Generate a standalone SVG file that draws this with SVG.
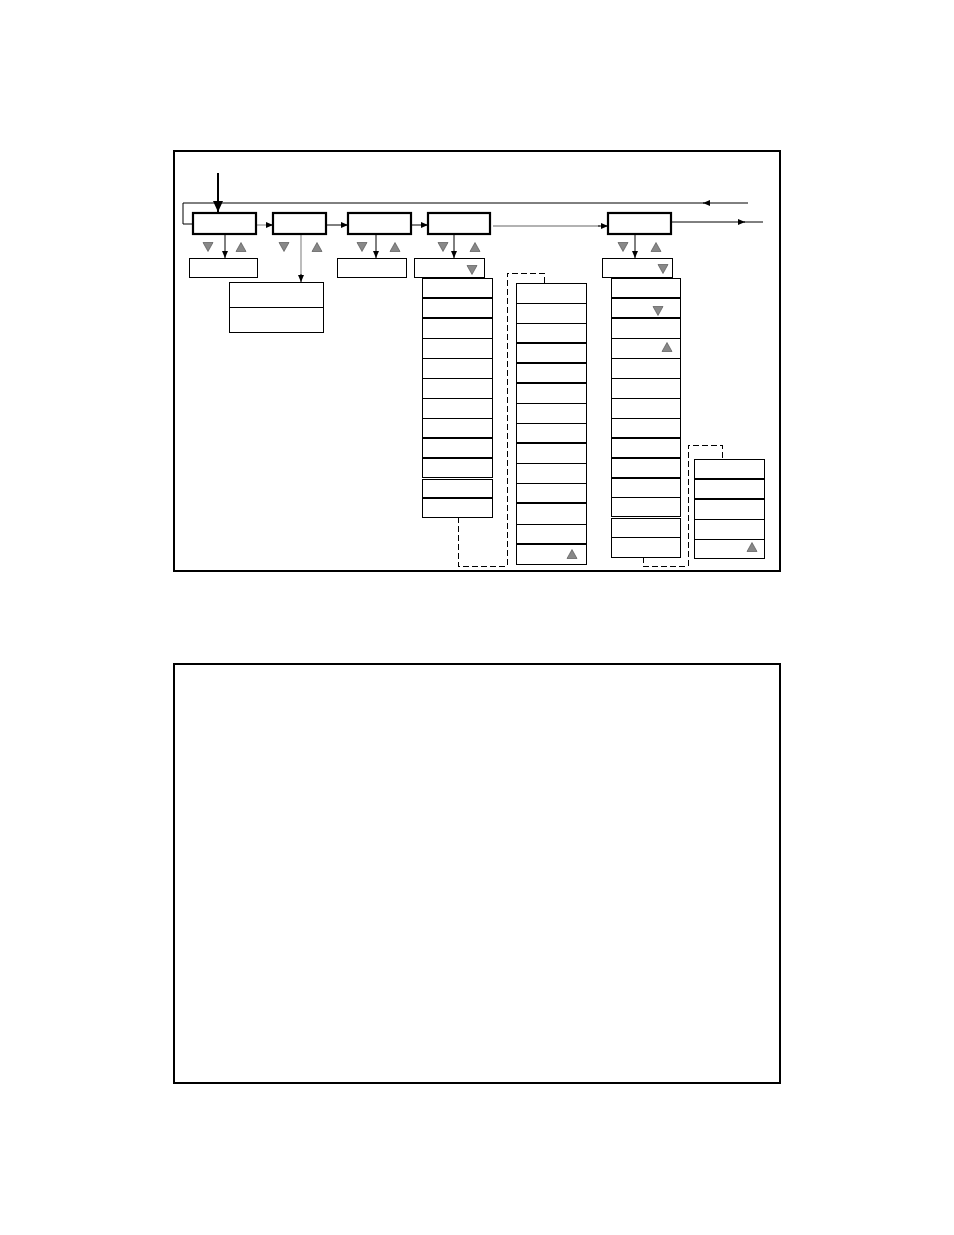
<svg xmlns="http://www.w3.org/2000/svg" width="954" height="1235" viewBox="0 0 954 1235">
<style>
.frame{fill:none;stroke:#000;stroke-width:2}
.main{fill:#fff;stroke:#000;stroke-width:2.2}
.box{fill:#fff;stroke:#000;stroke-width:1;shape-rendering:crispEdges}
.thin{stroke:#000;stroke-width:1;shape-rendering:crispEdges}
.thick{stroke:#000;stroke-width:2}
.con{fill:none;stroke:#000;stroke-width:1}
.gray{fill:none;stroke:#999;stroke-width:1.3}
.dash{fill:none;stroke:#000;stroke-width:1;stroke-dasharray:6,3;shape-rendering:crispEdges}
.tri{fill:#888;stroke:#444;stroke-width:0.6}
</style>
<defs>
<marker id="ah" markerUnits="userSpaceOnUse" markerWidth="8" markerHeight="8" refX="7" refY="4" orient="auto">
<path d="M0,1 L7,4 L0,7 Z" fill="#000"/>
</marker>
<marker id="ahBig" markerUnits="userSpaceOnUse" markerWidth="12" markerHeight="12" refX="11" refY="6" orient="auto">
<path d="M0,1 L11,6 L0,11 Z" fill="#000"/>
</marker>
<path id="dn" class="tri" d="M-5,-4.5 L5,-4.5 L0,4.5 Z"/>
<path id="up" class="tri" d="M-5,4.5 L5,4.5 L0,-4.5 Z"/>
</defs>
<rect width="954" height="1235" fill="#fff"/>
<rect id="frame1" class="frame" x="174" y="151" width="606" height="420"/>
<rect id="frame2" class="frame" x="174" y="664" width="606" height="419"/>

<g id="connectors">
<line x1="218" y1="173" x2="218" y2="212" stroke="#000" stroke-width="2" marker-end="url(#ahBig)"/>
<line class="con" x1="748" y1="203" x2="703" y2="203" marker-end="url(#ah)"/>
<polyline class="con" points="704,203 183,203 183,224 193,224"/>
<line class="con" x1="672" y1="222" x2="745" y2="222" marker-end="url(#ah)"/>
<line class="con" x1="744" y1="222" x2="763" y2="222"/>
<line class="gray" x1="257" y1="225" x2="268" y2="225"/>
<line class="con" x1="266" y1="225" x2="273" y2="225" marker-end="url(#ah)"/>
<line class="con" x1="326" y1="225" x2="348" y2="225" marker-end="url(#ah)"/>
<line class="con" x1="411" y1="225" x2="428" y2="225" marker-end="url(#ah)"/>
<line class="gray" x1="493" y1="226" x2="600" y2="226"/>
<line class="con" x1="598" y1="226" x2="608" y2="226" marker-end="url(#ah)"/>
<line class="con" x1="225" y1="234" x2="225" y2="258" marker-end="url(#ah)"/>
<line class="gray" x1="301" y1="234" x2="301" y2="276"/>
<line class="con" x1="301" y1="274" x2="301" y2="282" marker-end="url(#ah)"/>
<line class="con" x1="376" y1="234" x2="376" y2="258" marker-end="url(#ah)"/>
<line class="con" x1="454" y1="234" x2="454" y2="258" marker-end="url(#ah)"/>
<line class="con" x1="635" y1="234" x2="635" y2="258" marker-end="url(#ah)"/>
<polyline class="dash" points="458,517 458,566 507,566 507,273 544,273 544,283"/>
<polyline class="dash" points="643,557 643,566 688,566 688,445 722,445 722,459"/>
</g>

<g id="box1"><rect class="main" x="193" y="213" width="63" height="21"/></g>
<g id="box2"><rect class="main" x="273" y="213" width="53" height="21"/></g>
<g id="box3"><rect class="main" x="348" y="213" width="63" height="21"/></g>
<g id="box4"><rect class="main" x="428" y="213" width="62" height="21"/></g>
<g id="box5"><rect class="main" x="608" y="213" width="63" height="21"/></g>

<g id="tris">
<use href="#dn" x="208" y="247"/><use href="#up" x="241" y="247"/>
<use href="#dn" x="284" y="247"/><use href="#up" x="317" y="247"/>
<use href="#dn" x="362" y="247"/><use href="#up" x="395" y="247"/>
<use href="#dn" x="443" y="247"/><use href="#up" x="475" y="247"/>
<use href="#dn" x="623" y="247"/><use href="#up" x="656" y="247"/>
</g>

<g id="sub1"><rect class="box" x="189" y="258" width="68" height="19"/></g>
<g id="sub2"><rect class="box" x="229" y="282" width="94" height="50"/><line class="thin" x1="229" y1="307" x2="323" y2="307"/></g>
<g id="sub3"><rect class="box" x="337" y="258" width="69" height="19"/></g>
<g id="sub4"><rect class="box" x="414" y="258" width="70" height="19"/><use href="#dn" x="472" y="270"/></g>
<g id="sub5"><rect class="box" x="602" y="258" width="70" height="19"/><use href="#dn" x="663" y="269"/></g>

<g id="list1">
<rect class="box" x="422" y="278" width="70" height="199"/>
<line class="thick" x1="422" y1="298" x2="492" y2="298"/>
<line class="thick" x1="422" y1="318" x2="492" y2="318"/>
<line class="thin" x1="422" y1="338" x2="492" y2="338"/>
<line class="thin" x1="422" y1="358" x2="492" y2="358"/>
<line class="thin" x1="422" y1="378" x2="492" y2="378"/>
<line class="thin" x1="422" y1="398" x2="492" y2="398"/>
<line class="thin" x1="422" y1="418" x2="492" y2="418"/>
<line class="thick" x1="422" y1="438" x2="492" y2="438"/>
<line class="thick" x1="422" y1="458" x2="492" y2="458"/>
</g>
<g id="list1b">
<rect class="box" x="422" y="479" width="70" height="38"/>
<line class="thick" x1="422" y1="498" x2="492" y2="498"/>
</g>

<g id="list2">
<rect class="box" x="516" y="283" width="70" height="281"/>
<line class="thin" x1="516" y1="303" x2="586" y2="303"/>
<line class="thin" x1="516" y1="323" x2="586" y2="323"/>
<line class="thick" x1="516" y1="343" x2="586" y2="343"/>
<line class="thick" x1="516" y1="363" x2="586" y2="363"/>
<line class="thick" x1="516" y1="383" x2="586" y2="383"/>
<line class="thin" x1="516" y1="403" x2="586" y2="403"/>
<line class="thin" x1="516" y1="423" x2="586" y2="423"/>
<line class="thick" x1="516" y1="443" x2="586" y2="443"/>
<line class="thin" x1="516" y1="463" x2="586" y2="463"/>
<line class="thin" x1="516" y1="483" x2="586" y2="483"/>
<line class="thick" x1="516" y1="503" x2="586" y2="503"/>
<line class="thin" x1="516" y1="524" x2="586" y2="524"/>
<line class="thick" x1="516" y1="544" x2="586" y2="544"/>
<use href="#up" x="572" y="554"/>
</g>

<g id="list3">
<rect class="box" x="611" y="278" width="69" height="238"/>
<line class="thick" x1="611" y1="298" x2="680" y2="298"/>
<line class="thick" x1="611" y1="318" x2="680" y2="318"/>
<line class="thin" x1="611" y1="338" x2="680" y2="338"/>
<line class="thin" x1="611" y1="358" x2="680" y2="358"/>
<line class="thin" x1="611" y1="378" x2="680" y2="378"/>
<line class="thin" x1="611" y1="398" x2="680" y2="398"/>
<line class="thin" x1="611" y1="418" x2="680" y2="418"/>
<line class="thick" x1="611" y1="438" x2="680" y2="438"/>
<line class="thick" x1="611" y1="458" x2="680" y2="458"/>
<line class="thick" x1="611" y1="478" x2="680" y2="478"/>
<line class="thin" x1="611" y1="497" x2="680" y2="497"/>
<use href="#dn" x="658" y="311"/>
<use href="#up" x="667" y="347"/>
</g>
<g id="list3b">
<rect class="box" x="611" y="518" width="69" height="39"/>
<line class="thin" x1="611" y1="537" x2="680" y2="537"/>
</g>

<g id="list4">
<rect class="box" x="694" y="459" width="70" height="99"/>
<line class="thick" x1="694" y1="479" x2="764" y2="479"/>
<line class="thick" x1="694" y1="499" x2="764" y2="499"/>
<line class="thin" x1="694" y1="519" x2="764" y2="519"/>
<line class="thin" x1="694" y1="539" x2="764" y2="539"/>
<use href="#up" x="752" y="547"/>
</g>
</svg>
